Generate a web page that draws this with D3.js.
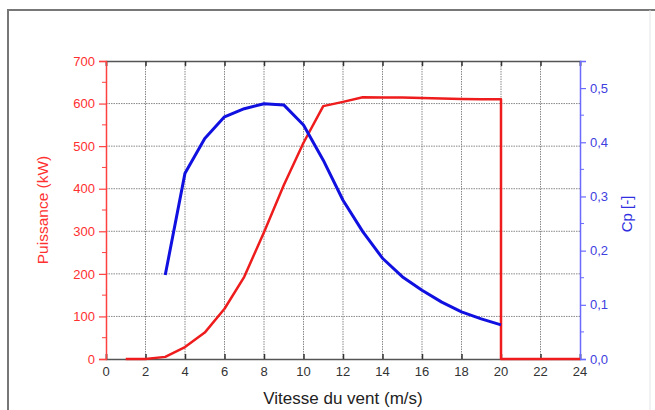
<!DOCTYPE html>
<html>
<head>
<meta charset="utf-8">
<script src="https://cdn.jsdelivr.net/npm/d3@7"></script>
<style>
  body { margin:0; background:#fff; }
  text { font-family: "Liberation Sans", Arial, sans-serif; }
</style>
</head>
<body>
<svg id="chart" width="655" height="410"></svg>
<script>
// vitesse du vent (m/s) et puissance (kW)
const windPower = [1,2,3,4,5,6,7,8,9,10,11,12,13,14,15,16,17,18,19,20,20,21,22,23,24];
const power     = [0,0,5,28,62,118,193,298,408,508,594,604,615,614,614,613,612,611,610,610,0,0,0,0,0];
// coefficient de puissance Cp
const windCp = [3,4,5,6,7,8,9,10,11,12,13,14,15,16,17,18,19,20];
const cp     = [0.155,0.343,0.407,0.447,0.462,0.471,0.469,0.432,0.367,0.293,0.235,0.186,0.152,0.127,0.105,0.087,0.074,0.063];
const xTicks = [0,2,4,6,8,10,12,14,16,18,20,22,24];
const powerTicks = [0,100,200,300,400,500,600,700];
const cpTicks = [0,0.1,0.2,0.3,0.4,0.5];

const svg = d3.select('#chart');
const margin = { top:61, right:75, bottom:51, left:106 };
const width = +svg.attr('width');
const height = +svg.attr('height');
const innerWidth = width - margin.left - margin.right;
const innerHeight = height - margin.top - margin.bottom;

// cadre extérieur
svg.append('path')
    .attr('d', `M8,410 V10 H655`)
    .attr('fill','none').attr('stroke','#777').attr('stroke-width',2);
svg.append('line')
    .attr('x1',650).attr('x2',650).attr('y1',10).attr('y2',410)
    .attr('stroke','#e4e4e4').attr('stroke-width',1);

const xscale = d3.scaleLinear().domain([0,24]).range([0,innerWidth]);
const yscale = d3.scaleLinear().domain([0,700]).range([innerHeight,0]);
const cpscale = d3.scaleLinear().domain([0,0.55]).range([innerHeight,0]);

const g = svg.append('g')
    .attr('transform',`translate(${margin.left},${margin.top})`);

// grille pointillée
g.append('g').selectAll('line').data(xTicks.slice(1,-1))
    .enter().append('line')
    .attr('x1', d => xscale(d)).attr('x2', d => xscale(d))
    .attr('y1', 0).attr('y2', innerHeight)
    .attr('stroke','#888').attr('stroke-dasharray','1.5,1');
g.append('g').selectAll('line').data(powerTicks.slice(1,-1))
    .enter().append('line')
    .attr('x1', 0).attr('x2', innerWidth)
    .attr('y1', d => yscale(d)).attr('y2', d => yscale(d))
    .attr('stroke','#888').attr('stroke-dasharray','1.5,1');

// axe du haut
const topAxis = g.append('g')
    .call(d3.axisBottom(xscale).tickValues(xTicks).tickSize(5).tickFormat(''));
topAxis.selectAll('.tick text').remove();
topAxis.select('.domain').attr('stroke','#555').attr('stroke-width',1.5);
topAxis.selectAll('.tick line').attr('stroke','#333').attr('stroke-width',1.5);

// axe du bas
const xAxis = g.append('g')
    .attr('transform',`translate(0,${innerHeight})`)
    .call(d3.axisTop(xscale).tickValues(xTicks).tickSize(5).tickFormat(''));
xAxis.selectAll('.tick text').remove();
xAxis.select('.domain').attr('stroke','#555').attr('stroke-width',1.5);
xAxis.selectAll('.tick line').attr('stroke','#333').attr('stroke-width',1.5);
xAxis.selectAll('.label').data(xTicks).enter().append('text')
    .attr('class','label')
    .attr('x', d => xscale(d)).attr('y', 17)
    .attr('text-anchor','middle')
    .attr('fill','#333').attr('font-size',13)
    .text(d => d);

// axe gauche (puissance)
const yAxis = g.append('g')
    .call(d3.axisLeft(yscale).tickValues(powerTicks).tickSize(7).tickPadding(4));
yAxis.select('.domain').attr('stroke','#ff4040').attr('stroke-width',1.5);
yAxis.selectAll('.tick line').attr('stroke','#ff4040').attr('stroke-width',1.2);
yAxis.selectAll('.tick text').attr('fill','#ff3030').attr('font-size',13)
    .attr('font-family','"Liberation Sans", Arial, sans-serif');
yAxis.selectAll('.minor').data(d3.range(50,700,100)).enter().append('line')
    .attr('x1',-4).attr('x2',0)
    .attr('y1', d => yscale(d)).attr('y2', d => yscale(d))
    .attr('stroke','#ff4040');

// axe droit (Cp)
const cpAxis = g.append('g')
    .attr('transform',`translate(${innerWidth},0)`)
    .call(d3.axisRight(cpscale).tickValues(cpTicks).tickSize(6).tickPadding(4)
        .tickFormat(d => d3.format('.1f')(d).replace('.',',')));
cpAxis.select('.domain').attr('stroke','#6a6aff').attr('stroke-width',1.5);
cpAxis.selectAll('.tick line').attr('stroke','#6a6aff').attr('stroke-width',1.2);
cpAxis.selectAll('.tick text').attr('fill','#4040e0').attr('font-size',13)
    .attr('font-family','"Liberation Sans", Arial, sans-serif');
cpAxis.selectAll('.minor').data([0.05,0.15,0.25,0.35,0.45]).enter().append('line')
    .attr('x1',0).attr('x2',4)
    .attr('y1', d => cpscale(d)).attr('y2', d => cpscale(d))
    .attr('stroke','#6a6aff');

// courbes
const powerLine = d3.line()
    .x((d,i) => xscale(windPower[i]))
    .y(d => yscale(d));
g.append('path').datum(power)
    .attr('d', powerLine)
    .attr('fill','none').attr('stroke','#ee1c1c').attr('stroke-width',2.5)
    .attr('stroke-linejoin','round');

const cpLine = d3.line()
    .x((d,i) => xscale(windCp[i]))
    .y(d => cpscale(d));
g.append('path').datum(cp)
    .attr('d', cpLine)
    .attr('fill','none').attr('stroke','#1010e0').attr('stroke-width',3)
    .attr('stroke-linejoin','round');

// titres des axes
g.append('text')
    .attr('transform',`translate(-58,${innerHeight/2}) rotate(-90)`)
    .attr('text-anchor','middle')
    .attr('fill','#ff3030').attr('font-size',15.5)
    .text('Puissance (kW)');
g.append('text')
    .attr('transform',`translate(${innerWidth+52},${innerHeight/2 + 4}) rotate(-90)`)
    .attr('text-anchor','middle')
    .attr('fill','#3030e0').attr('font-size',15)
    .text('Cp [-]');
g.append('text')
    .attr('x', innerWidth/2).attr('y', innerHeight + 45)
    .attr('text-anchor','middle')
    .attr('fill','#222').attr('font-size',17)
    .text('Vitesse du vent (m/s)');
</script>
</body>
</html>
